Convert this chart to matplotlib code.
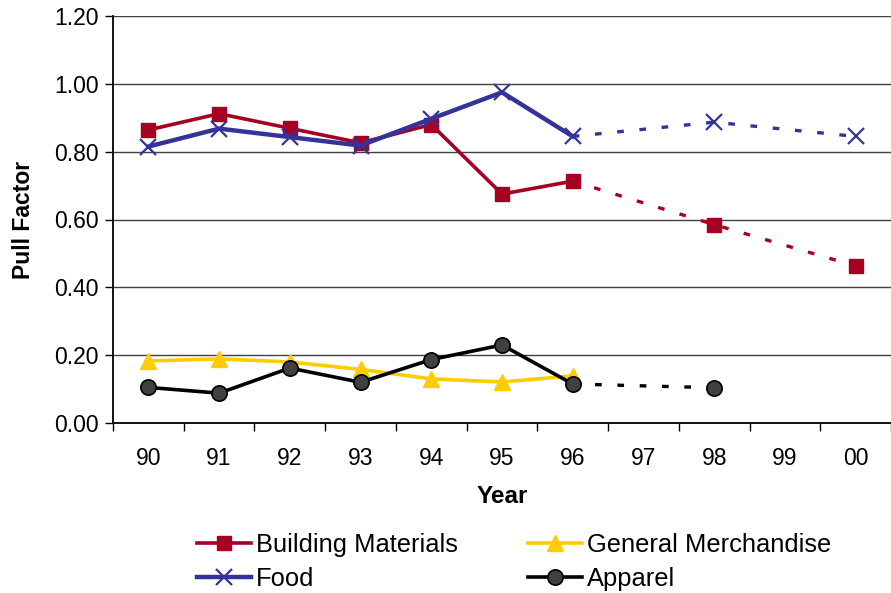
import numpy as np
import matplotlib
matplotlib.use("Agg")
import matplotlib.pyplot as plt
from matplotlib.ticker import FixedLocator, NullFormatter

plt.rcParams['font.family'] = ['Liberation Sans', 'DejaVu Sans']

years = ["90", "91", "92", "93", "94", "95", "96", "97", "98", "99", "00"]
nan = np.nan
building = [0.864, 0.912, 0.869, 0.826, 0.880, 0.675, 0.713, nan, 0.585, nan, 0.463]
food = [0.815, 0.868, 0.843, 0.818, 0.897, 0.975, 0.845, nan, 0.887, nan, 0.845]
general = [0.183, 0.189, 0.180, 0.158, 0.130, 0.121, 0.139, nan, nan, nan, nan]
apparel = [0.105, 0.088, 0.162, 0.120, 0.187, 0.230, 0.115, nan, 0.104, nan, nan]

x = np.arange(len(years))
solid_end = 6  # index of "96", last actual value

fig = plt.figure(figsize=(8.91, 5.93), dpi=100)
ax = fig.add_axes([113/891, 1-423/593, 1-113/891, (423-16)/593])

def draw(vals, color, marker, ms, lw, mfc, mec, mew, label):
    v = np.array(vals, dtype=float)
    xs = x[:solid_end+1]
    ax.plot(xs, v[:solid_end+1], color=color, lw=lw, marker=marker, ms=ms,
            mfc=mfc, mec=mec, mew=mew, label=label, zorder=3)
    idx = [i for i in range(solid_end, len(v)) if not np.isnan(v[i])]
    if len(idx) > 1:
        ax.plot(x[idx], v[idx], color=color, lw=2.4, ls=(0, (2.0, 4.7)), zorder=2)
        ax.plot(x[idx[1:]], v[idx[1:]], ls='none', marker=marker, ms=ms,
                mfc=mfc, mec=mec, mew=mew, zorder=3)

draw(building, '#A50021', 's', 10.5, 2.6, '#A50021', '#A50021', 1, 'Building Materials')
draw(food, '#333399', 'x', 11, 3.2, '#333399', '#333399', 1.6, 'Food')
draw(general, '#FFCC00', '^', 11, 2.6, '#FFCC00', '#FFCC00', 1, 'General Merchandise')
draw(apparel, '#000000', 'o', 11, 2.6, '#404040', '#000000', 1.2, 'Apparel')

ax.set_xlim(-0.5, len(years) - 0.5)
ax.set_ylim(0, 1.2)
yt = np.arange(0, 1.21, 0.2)
ax.set_yticks(yt)
ax.set_yticklabels([f"{t:.2f}" for t in yt])
ax.set_xticks(x)
ax.set_xticklabels(years)
ax.tick_params(axis='x', which='major', length=0, pad=17, labelsize=16.5)
ax.xaxis.set_minor_locator(FixedLocator(np.arange(-0.5, len(years), 1.0)))
ax.xaxis.set_minor_formatter(NullFormatter())
ax.tick_params(axis='x', which='minor', length=6, width=1, direction='out')
ax.tick_params(axis='y', length=6, width=1, direction='out', labelsize=16.5, pad=4)

ax.grid(axis='y', color='#404040', lw=1)
ax.set_axisbelow(True)
for s in ['top', 'right']:
    ax.spines[s].set_visible(False)
ax.spines['left'].set_linewidth(1.3)
ax.spines['bottom'].set_linewidth(1.3)

ax.set_xlabel("Year", fontsize=17.5, fontweight='bold', labelpad=11)
ax.set_ylabel("Pull Factor", fontsize=16.5, fontweight='bold', labelpad=14)

h, l = ax.get_legend_handles_labels()
fig.legend(h, l, ncol=2,
           loc='center', bbox_to_anchor=(0.577, 1-562/593), frameon=False,
           fontsize=18.4, handlelength=2.1, handletextpad=0.2,
           columnspacing=2.75, labelspacing=0.36)

fig.savefig("out.png", dpi=100)
